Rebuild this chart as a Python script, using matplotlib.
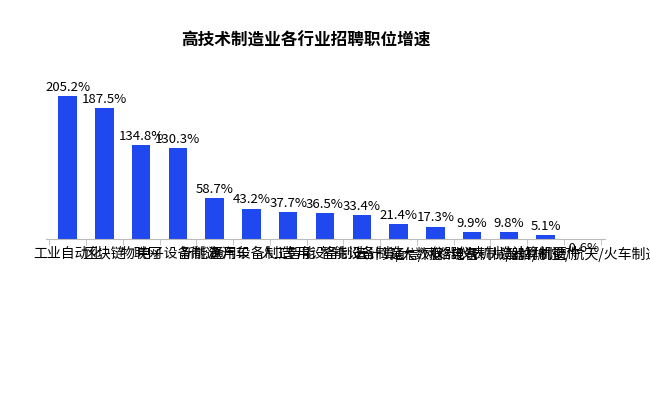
import matplotlib
matplotlib.use('Agg')
import matplotlib.pyplot as plt
import numpy as np

plt.rcParams['font.family'] = 'Noto Sans CJK SC'

industries = ['工业自动化', '区块链', '物联网', '电子设备制造', '新能源汽车', '通用设备制造',
              '人工智能', '专用设备制造', '智能设备制造', '云计算/大数据', '通信/网络设备',
              '仪器仪表制造', '电气机械/器材制造', '计算机硬件', '船舶/航空/航天/火车制造']
growth = [205.2, 187.5, 134.8, 130.3, 58.7, 43.2, 37.7, 36.5, 33.4, 21.4, 17.3, 9.9, 9.8, 5.1, -0.6]

fig = plt.figure(figsize=(6.5, 4), dpi=100)
ax = fig.add_axes([0.07, 0.40, 0.86, 0.40])
x = np.arange(len(industries))
ax.bar(x, growth, width=0.5, color='#1F48EE', zorder=2)
for xi, v in zip(x, growth):
    y = v + 3 if v >= 0 else v - 4
    ax.text(xi, y, f'{v}%', ha='center', va='bottom' if v >= 0 else 'top', fontsize=9.5)

ax.set_xlim(-0.6, len(industries) - 0.4)
ax.set_ylim(-2, 228)
ax.set_xticks(np.arange(-0.5, len(industries)), minor=True)
ax.set_xticks(x)
ax.set_xticklabels(industries, fontsize=9.5)
ax.tick_params(axis='x', which='major', length=0, pad=6)
ax.tick_params(axis='x', which='minor', length=4, color='#bbbbbb')
for lbl in ax.get_xticklabels():
    lbl.set_rotation(45)
    lbl.set_ha('right')
    lbl.set_rotation_mode('anchor')
ax.set_yticks([])
for s in ['top', 'right', 'left']:
    ax.spines[s].set_visible(False)
ax.spines['bottom'].set_position(('data', 0))
ax.spines['bottom'].set_color('#bbbbbb')

fig.text(0.47, 0.885, '高技术制造业各行业招聘职位增速', ha='center', fontsize=12, fontweight='bold')
fig.savefig('out.png', dpi=100)
